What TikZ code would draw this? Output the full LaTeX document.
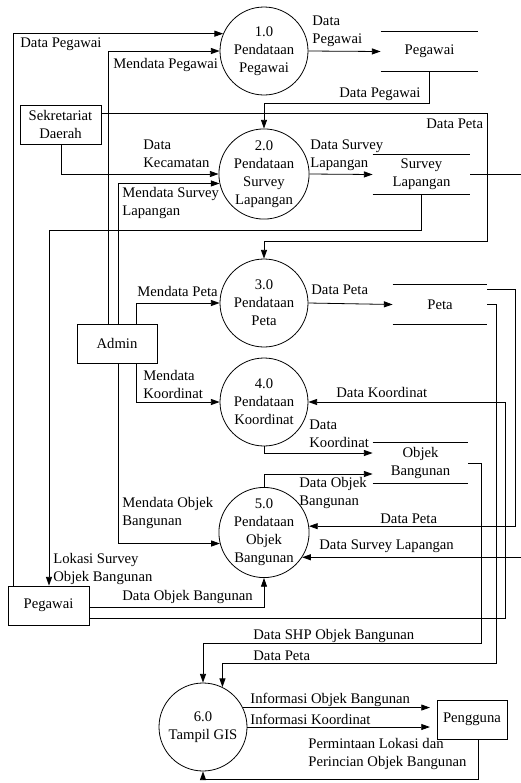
\documentclass[tikz,border=0pt]{standalone}
\usepackage{fontspec}
\setmainfont{Liberation Serif}
\usetikzlibrary{arrows.meta}
\begin{document}
\begin{tikzpicture}[x=0.75pt,y=-0.75pt,
 every node/.style={font=\fontsize{11pt}{13.5pt}\selectfont},
 proc/.style={circle,draw,minimum size=66pt,inner sep=0pt,align=center},
 ent/.style={draw,minimum width=#1,minimum height=29.25pt,inner sep=0pt,align=center},
 store/.style={minimum width=#1,minimum height=29.25pt,inner sep=0pt,align=center},
 lbl/.style={anchor=west,inner sep=0pt,align=left},
 flow/.style={-{Triangle[length=6.5pt,width=4.5pt]}},
 line width=0.6pt]
\useasboundingbox (0,0) rectangle (521,783);

% processes
\node[proc] (p1) at (264,51) {1.0\\Pendataan\\Pegawai};
\node[proc] (p2) at (264,174) {2.0\\Pendataan\\Survey\\Lapangan};
\node[proc] (p3) at (264,303) {3.0\\Pendataan\\Peta};
\node[proc] (p4) at (264,402) {4.0\\Pendataan\\Koordinat};
\node[proc] (p5) at (264,532.5) {5.0\\Pendataan\\Objek\\Bangunan};
\node[proc] (p6) at (203,727) {6.0\\Tampil GIS};

% entities
\node[ent=60.75pt] (sek) at (60.5,124.5) {Sekretariat\\Daerah};
\node[ent=60pt] (adm) at (117,343.5) {Admin};
\node[ent=60.75pt] (peg) at (48.5,605.5) {Pegawai};
\node[ent=52.5pt] (pgn) at (472,719.5) {Pengguna};

% data stores
\node[store=72.75pt] (dsPeg) at (429.5,51.5) {Pegawai};
\node[store=72.75pt] (dsSurv) at (421.5,174.5) {Survey\\Lapangan};
\node[store=70.5pt] (dsPeta) at (440,304.5) {Peta};
\node[store=71.25pt,minimum height=30pt] (dsObj) at (420.5,463) {Objek\\Bangunan};
\foreach \s in {dsPeg,dsSurv,dsPeta,dsObj}{
  \draw (\s.north west) -- (\s.north east) (\s.south west) -- (\s.south east);
}

% flows
\draw[flow] (peg.north -| 13,0) |- (p1.157);
\draw[flow] (adm.north -| 108,0) |- (p1.west);
\draw[flow] (sek.south -| 61,0) |- (p2.west);
\draw[flow] (adm.north -| 118,0) |- (p2.192);
\draw[flow] (sek.east |- 0,113) -| (487,241) -| (p3.north);
\draw[flow] (dsPeg.south) -- ++(0,32) -| (p2.north);
\draw[flow] (p1.east) -- (dsPeg.west);
\draw[flow] (p2.east) -- (dsSurv.west);
\draw[flow] (dsSurv.east) -| (523,0 |- p5.-33) -- (p5.-33);
\draw[flow] (dsSurv.south) -- ++(0,36) -| (peg.north -| 49,0);
\draw[flow] (p3.east) -- (dsPeta.west);
\draw[flow] (adm.north -| 136,0) |- (p3.west);
\draw[flow] (adm.south -| 136,0) |- (p4.west);
\draw[flow] (adm.south -| 118,0) |- (p5.194);
\draw[flow] (dsPeta.east |- 0,289) -| (515,0 |- p5.8) -- (p5.8);
\draw[flow] (dsPeta.east) -| (496,663) -| (p6.64);
\draw[flow] (dsObj.east) -| (481,643) -| (p6.north);
\draw[flow] (peg.east |- 0,618) -| (505,402) -- (p4.east);
\draw[flow] (peg.east |- 0,607) -| (p5.south);
\draw[flow] (p4.south) |- (dsObj.west |- 0,453);
\draw[flow] (p5.north) |- (dsObj.west |- 0,474);
\draw[flow,shorten >=5pt] (p6.26) -- (pgn.west |- p6.26);
\draw[flow,shorten >=5pt] (p6.east) -- (pgn.west |- p6.east);
\draw[flow] (pgn.south -| 478,0) -- ++(0,40) -| (p6.south);

% labels
\node[lbl] (l1) at (20,44) {Data Pegawai};
\node[lbl] (l2) at (113,65) {Mendata Pegawai};
\node[lbl] (l3) at (143,154) {Data\\Kecamatan};
\node[lbl] (l4) at (122,202.5) {Mendata Survey\\Lapangan};
\node[lbl] (l5) at (137,291) {Mendata Peta};
\node[lbl] (l6) at (143,384) {Mendata\\Koordinat};
\node[lbl] (l7) at (122,512.5) {Mendata Objek\\Bangunan};
\node[lbl] (l8) at (53,569) {Lokasi Survey\\Objek Bangunan};
\node[lbl] (l9) at (122,597) {Data Objek Bangunan};
\node[lbl] (l10) at (312,31.5) {Data\\Pegawai};
\node[lbl] (l11) at (339,94) {Data Pegawai};
\node[lbl] (l12) at (426,124) {Data Peta};
\node[lbl] (l13) at (310,155.5) {Data Survey\\Lapangan};
\node[lbl] (l14) at (311,290) {Data Peta};
\node[lbl] (l15) at (336,392) {Data Koordinat};
\node[lbl] (l16) at (309,434) {Data\\Koordinat};
\node[lbl] (l17) at (299,493) {Data Objek\\Bangunan};
\node[lbl] (l18) at (380,519) {Data Peta};
\node[lbl] (l19) at (319,546) {Data Survey Lapangan};
\node[lbl] (l20) at (253,636) {Data SHP Objek Bangunan};
\node[lbl] (l21) at (253,656) {Data Peta};
\node[lbl] (l22) at (250,700) {Informasi Objek Bangunan};
\node[lbl] (l23) at (250,719) {Informasi Koordinat};
\node[lbl] (l24) at (308,754) {Permintaan Lokasi dan\\Perincian Objek Bangunan};
\end{tikzpicture}
\end{document}
